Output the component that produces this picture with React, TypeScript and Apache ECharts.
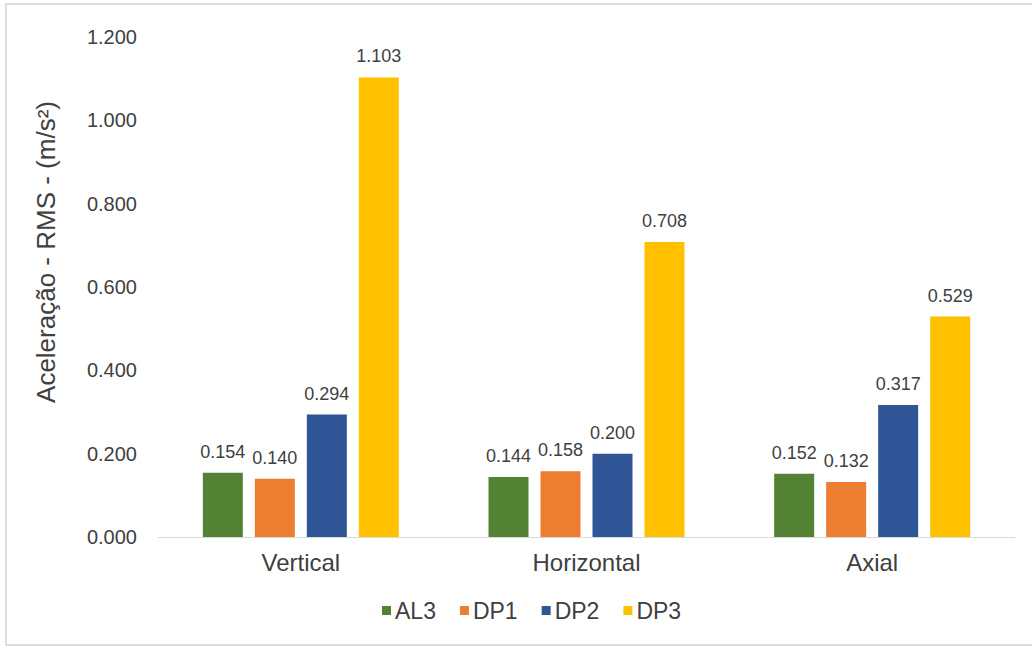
import React, { useEffect, useRef } from "react";
import * as echarts from "echarts";

const categories = ["Vertical", "Horizontal", "Axial"];
const seriesNames = ["AL3", "DP1", "DP2", "DP3"];
const al3 = [0.154, 0.144, 0.152];
const dp1 = [0.14, 0.158, 0.132];
const dp2 = [0.294, 0.2, 0.317];
const dp3 = [1.103, 0.708, 0.529];
const colors = ["#548235", "#ED7D31", "#2F5597", "#FFC000"];
const yTitle = "Aceleração - RMS - (m/s²)";

export default function App() {
  const ref = useRef<HTMLDivElement>(null);
  useEffect(() => {
    if (!ref.current) return;
    const chart = echarts.init(ref.current, null, { renderer: "svg" });
    const font = "'Liberation Sans', Arial, sans-serif";
    const values = [al3, dp1, dp2, dp3];
    chart.setOption({
      animation: false,
      backgroundColor: "#ffffff",
      textStyle: { fontFamily: font },
      grid: { left: 158, right: 17, top: 37, bottom: 110, containLabel: false },
      legend: {
        data: seriesNames,
        bottom: 20,
        left: 377,
        padding: 5,
        itemWidth: 9,
        itemHeight: 9,
        itemGap: 24,
        icon: "rect",
        textStyle: { fontSize: 23, color: "#404040", fontFamily: font, padding: [0, 0, 0, -1] },
      },
      xAxis: {
        type: "category",
        data: categories,
        axisLine: { lineStyle: { color: "#d9d9d9", width: 1 } },
        axisTick: { show: false },
        axisLabel: { fontSize: 24, color: "#404040", margin: 13, fontFamily: font },
      },
      yAxis: {
        type: "value",
        min: 0,
        max: 1.2,
        interval: 0.2,
        splitLine: { show: false },
        axisLine: { show: false },
        axisTick: { show: false },
        axisLabel: {
          fontSize: 20,
          color: "#404040",
          margin: 21,
          fontFamily: font,
          formatter: (v: number) => v.toFixed(3),
        },
      },
      graphic: [
        {
          type: "rect",
          shape: { x: 6, y: 4, width: 1040, height: 641 },
          style: { fill: "none", stroke: "#d4d4d4", lineWidth: 1.5 },
          silent: true,
          z: -1,
        },
        {
          type: "text",
          x: 46,
          y: 252,
          rotation: Math.PI / 2,
          style: {
            text: yTitle,
            fontSize: 26,
            fill: "#404040",
            fontFamily: font,
            align: "center",
            verticalAlign: "middle",
          },
        },
      ],
      series: seriesNames.map((name, i) => ({
        name,
        type: "bar",
        data: values[i],
        barWidth: 40,
        barGap: "30%",
        itemStyle: { color: colors[i] },
        label: {
          show: true,
          position: "top",
          distance: 12,
          fontSize: 18,
          color: "#404040",
          fontFamily: font,
          formatter: (p: any) => Number(p.value).toFixed(3),
        },
      })),
    });
    return () => chart.dispose();
  }, []);
  return (
    <div
      ref={ref}
      style={{ position: "absolute", left: 0, top: 0, width: 1032, height: 647 }}
    />
  );
}
